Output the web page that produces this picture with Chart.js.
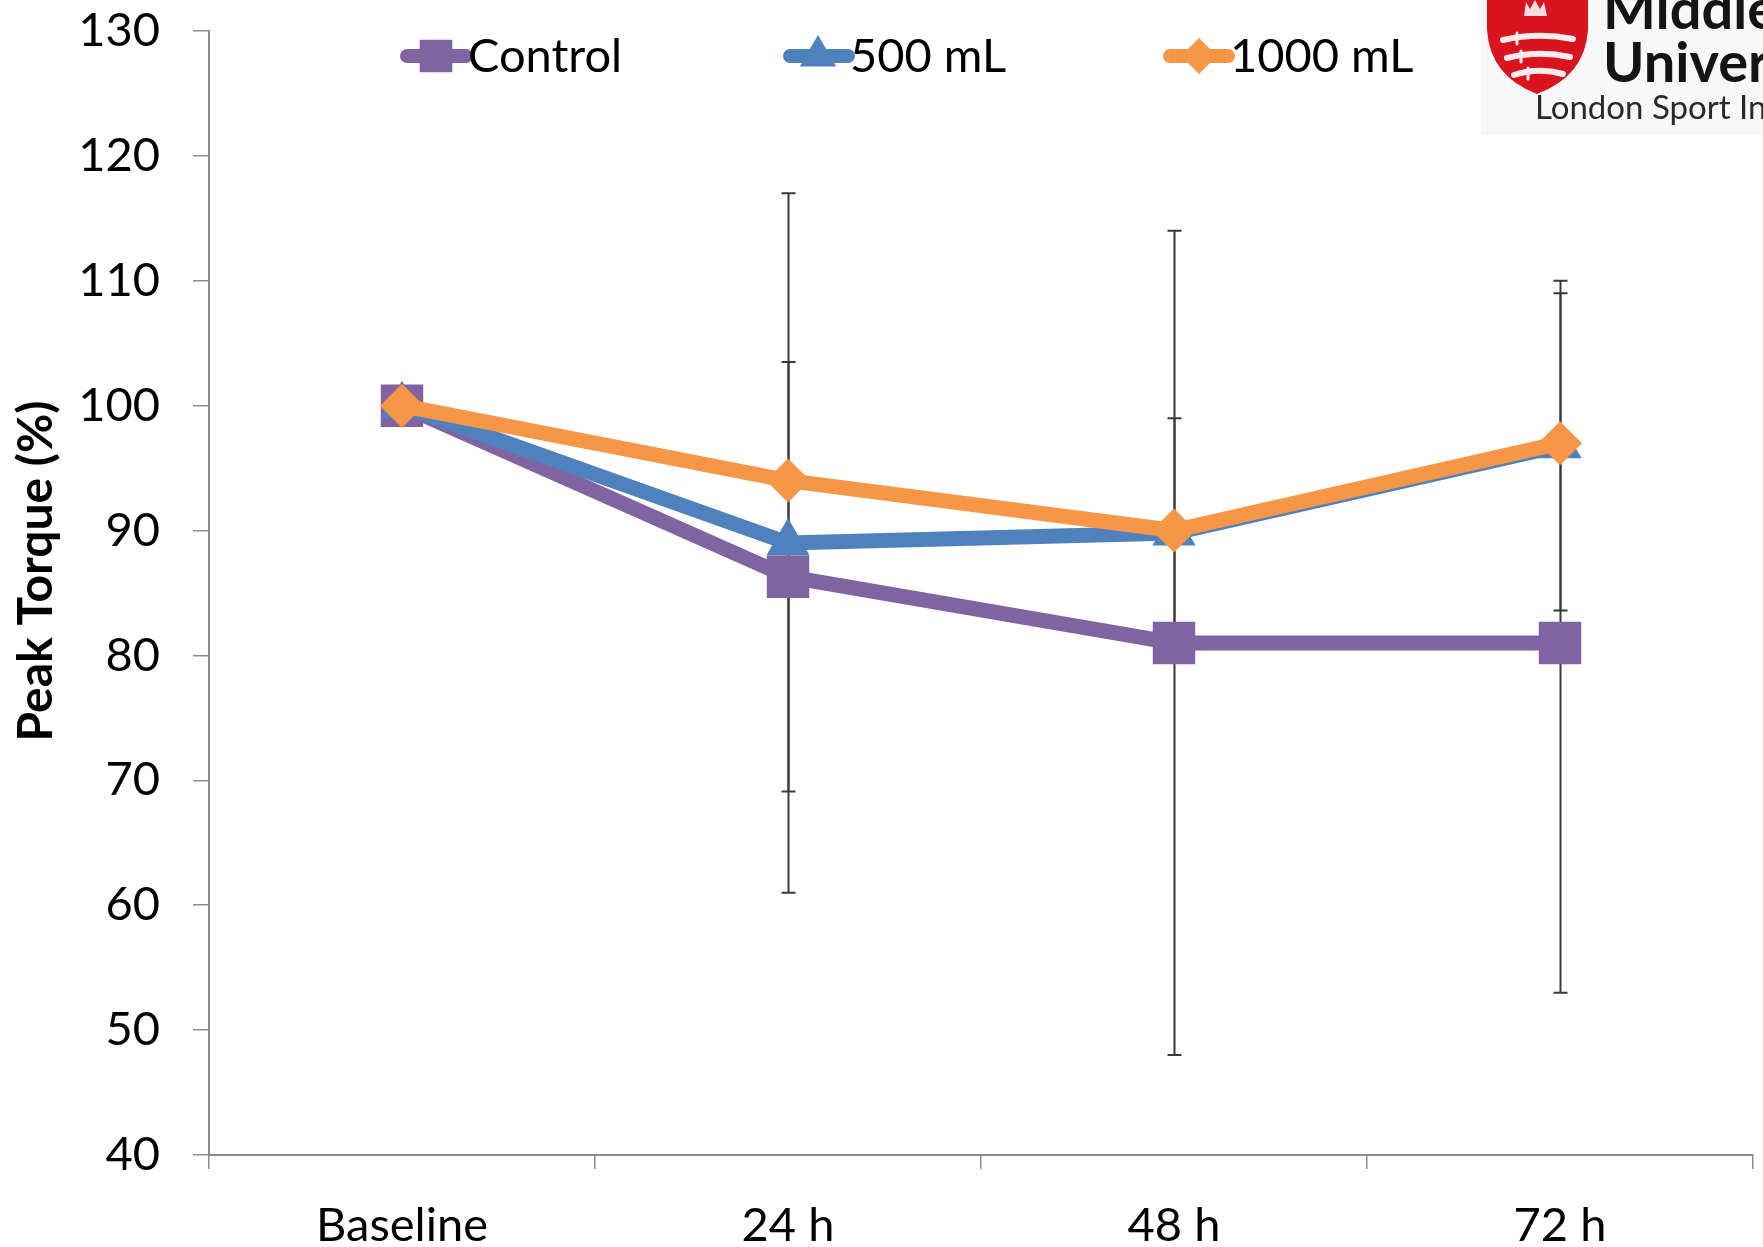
<!DOCTYPE html>
<html>
<head>
<meta charset="utf-8">
<title>Peak Torque</title>
<script src="https://cdn.jsdelivr.net/npm/chart.js@4.4.1/dist/chart.umd.min.js"></script>
<style>
  html, body { margin: 0; padding: 0; background: #ffffff; }
  canvas { display: block; }
</style>
</head>
<body>
<canvas id="chart" width="1763" height="1247"></canvas>
<script>
// ---- data ----
const categories = ['Baseline', '24 h', '48 h', '72 h'];
const controlMean = [100, 86.3, 81, 81];
const controlSD   = [0, 17.2, 33, 28];
const ml500Mean   = [100, 89, 89.8, 96.8];
const ml500SD     = [0, 28, 9.2, 13.2];
const ml1000Mean  = [100, 94, 90, 97];
const yMin = 40, yMax = 130, yStep = 10;
const seriesNames = ['Control', '500 mL', '1000 mL'];
const yTitle = 'Peak Torque (%)';

// ---- styling ----
const PURPLE = '#8064A2', BLUE = '#4F81BD', ORANGE = '#F79646';
const AXIS = '#8c8c8c';
const FONT = 'Lato, "Open Sans", sans-serif';
const TICK_SIZE = 47;

function marker(ctx, style, x, y, r, color) {
  ctx.save();
  ctx.fillStyle = color;
  ctx.beginPath();
  if (style === 'rect') {
    const s = Math.SQRT1_2 * r;
    ctx.rect(x - s, y - s, 2 * s, 2 * s);
  } else if (style === 'triangle') {
    ctx.moveTo(x, y - r);
    ctx.lineTo(x + Math.sin(2 * Math.PI / 3) * r, y + r / 2);
    ctx.lineTo(x - Math.sin(2 * Math.PI / 3) * r, y + r / 2);
    ctx.closePath();
  } else {
    ctx.moveTo(x - r, y); ctx.lineTo(x, y - r); ctx.lineTo(x + r, y); ctx.lineTo(x, y + r);
    ctx.closePath();
  }
  ctx.fill();
  ctx.restore();
}

// error bars, drawn beneath the series
const errorBars = {
  id: 'errorBars',
  beforeDatasetsDraw(chart) {
    const { ctx, scales: { x, y } } = chart;
    ctx.save();
    ctx.strokeStyle = '#3a3a3a';
    ctx.lineWidth = 2;
    chart.data.datasets.forEach(ds => {
      if (!ds.sd) return;
      ds.data.forEach((m, i) => {
        const sd = ds.sd[i];
        if (!sd) return;
        const px = Math.round(x.getPixelForValue(i)) + 0.5;
        const top = y.getPixelForValue(m + sd);
        const bot = y.getPixelForValue(m - sd);
        ctx.beginPath();
        ctx.moveTo(px, top); ctx.lineTo(px, bot);
        ctx.moveTo(px - 7, top); ctx.lineTo(px + 7, top);
        ctx.moveTo(px - 7, bot); ctx.lineTo(px + 7, bot);
        ctx.stroke();
      });
    });
    ctx.restore();
  }
};

// legend row across the top of the plot
const topLegend = {
  id: 'topLegend',
  afterDraw(chart) {
    const { ctx } = chart;
    const items = [
      { x0: 407, x1: 466, cx: 436, tx: 468, style: 'rect', r: 23 },
      { x0: 790, x1: 848, cx: 818, tx: 850, style: 'triangle', r: 21 },
      { x0: 1170, x1: 1228, cx: 1199, tx: 1230, style: 'rectRot', r: 18 }
    ];
    const yc = 56;
    chart.data.datasets.forEach((ds, i) => {
      const it = items[i];
      ctx.save();
      ctx.strokeStyle = ds.borderColor;
      ctx.lineWidth = 14;
      ctx.lineCap = 'round';
      ctx.beginPath();
      ctx.moveTo(it.x0, yc); ctx.lineTo(it.x1, yc);
      ctx.stroke();
      ctx.restore();
      marker(ctx, it.style, it.cx, yc, it.r, ds.borderColor);
      ctx.save();
      ctx.fillStyle = '#000';
      ctx.font = TICK_SIZE + 'px ' + FONT;
      ctx.textBaseline = 'middle';
      ctx.textAlign = 'left';
      ctx.fillText(ds.label, it.tx, yc + 1);
      ctx.restore();
    });
  }
};

// rotated y axis title
const axisTitle = {
  id: 'axisTitle',
  afterDraw(chart) {
    const { ctx } = chart;
    ctx.save();
    ctx.translate(37, 571);
    ctx.rotate(-Math.PI / 2);
    ctx.font = 'bold 48px ' + FONT;
    ctx.fillStyle = '#000';
    ctx.textAlign = 'center';
    ctx.textBaseline = 'middle';
    ctx.fillText(yTitle, 0, 0);
    ctx.restore();
  }
};

// institute logo in the top-right corner
const logo = {
  id: 'logo',
  afterDraw(chart) {
    const { ctx } = chart;
    ctx.save();
    ctx.fillStyle = '#f8f8f8';
    ctx.fillRect(1481, 0, 282, 135);
    // shield
    ctx.fillStyle = '#d9141e';
    ctx.beginPath();
    ctx.moveTo(1487, 0);
    ctx.lineTo(1487, 30);
    ctx.quadraticCurveTo(1490, 76, 1537, 94);
    ctx.quadraticCurveTo(1585, 76, 1588, 30);
    ctx.lineTo(1588, 0);
    ctx.closePath();
    ctx.fill();
    // crown
    ctx.fillStyle = '#f4dede';
    ctx.beginPath();
    ctx.moveTo(1524, 16); ctx.lineTo(1526, 2); ctx.lineTo(1530, 9); ctx.lineTo(1535, 0);
    ctx.lineTo(1540, 9); ctx.lineTo(1544, 2); ctx.lineTo(1547, 16); ctx.closePath();
    ctx.fill();
    // three seaxes
    ctx.strokeStyle = '#f7ecec';
    ctx.lineCap = 'round';
    const blades = [[1503, 1573, 38], [1507, 1570, 56], [1514, 1563, 73]];
    blades.forEach(([a, b, yy]) => {
      ctx.lineWidth = 6;
      ctx.beginPath();
      ctx.moveTo(a, yy + 2);
      ctx.quadraticCurveTo((a + b) / 2, yy - 6, b, yy + 1);
      ctx.stroke();
      ctx.lineWidth = 3;
      ctx.beginPath();
      ctx.moveTo(a + 14, yy - 5); ctx.lineTo(a + 14, yy + 6);
      ctx.stroke();
    });
    // wordmark
    ctx.fillStyle = '#141414';
    ctx.textAlign = 'left';
    ctx.textBaseline = 'alphabetic';
    ctx.font = 'bold 56px ' + FONT;
    ctx.fillText('Middlesex', 1603, 29);
    ctx.fillText('University', 1603, 82);
    ctx.fillStyle = '#2a2a2a';
    ctx.font = '33px ' + FONT;
    ctx.fillText('London Sport Institute', 1535, 119);
    ctx.restore();
  }
};

new Chart(document.getElementById('chart'), {
  type: 'line',
  data: {
    labels: categories,
    datasets: [
      { label: seriesNames[0], data: controlMean, sd: controlSD, order: 2,
        borderColor: PURPLE, backgroundColor: PURPLE, borderWidth: 15,
        pointStyle: 'rect', pointRadius: 30, pointBorderWidth: 0,
        pointBackgroundColor: PURPLE, tension: 0 },
      { label: seriesNames[1], data: ml500Mean, sd: ml500SD, order: 1,
        borderColor: BLUE, backgroundColor: BLUE, borderWidth: 15,
        pointStyle: 'triangle', pointRadius: 25, pointBorderWidth: 0,
        pointBackgroundColor: BLUE, tension: 0 },
      { label: seriesNames[2], data: ml1000Mean, order: 0,
        borderColor: ORANGE, backgroundColor: ORANGE, borderWidth: 15,
        pointStyle: 'rectRot', pointRadius: 22, pointBorderWidth: 0,
        pointBackgroundColor: ORANGE, tension: 0 }
    ]
  },
  options: {
    responsive: false,
    animation: false,
    clip: false,
    layout: { autoPadding: false, padding: { top: 31, right: 10, left: 0, bottom: 0 } },
    plugins: { legend: { display: false }, tooltip: { enabled: false } },
    scales: {
      x: {
        type: 'category',
        offset: true,
        afterFit(s) { s.height = 92; s.paddingLeft = 0; s.paddingRight = 0; },
        border: { display: true, color: AXIS, width: 2 },
        grid: { display: true, offset: true, drawOnChartArea: false, drawTicks: true,
                tickLength: 14, color: AXIS, lineWidth: 1.5 },
        ticks: { color: '#000', font: { family: FONT, size: TICK_SIZE }, padding: 29, maxRotation: 0 }
      },
      y: {
        min: yMin, max: yMax,
        afterFit(s) { s.width = 209; s.paddingTop = 0; s.paddingBottom = 0; },
        border: { display: true, color: AXIS, width: 2 },
        grid: { display: true, drawOnChartArea: false, drawTicks: true,
                tickLength: 16, color: AXIS, lineWidth: 1.5 },
        ticks: { stepSize: yStep, color: '#000', font: { family: FONT, size: TICK_SIZE }, padding: 33 }
      }
    }
  },
  plugins: [errorBars, topLegend, axisTitle, logo]
});
</script>
</body>
</html>
